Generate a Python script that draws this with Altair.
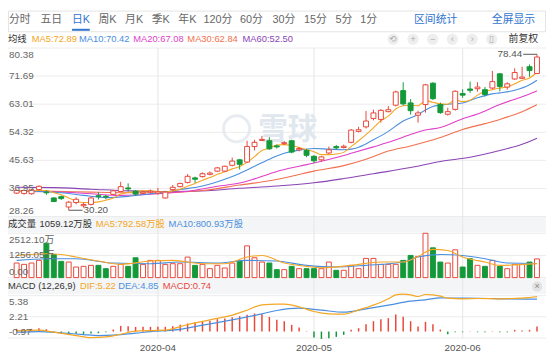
import altair as alt
import pandas as pd

# ---------------- data ----------------
opens = [35.5, 35.4, 35.3, 36.6, 35.8, 34.0, 34.4, 31.2, 32.6, 31.6,
         32.0, 34.7, 34.5, 35.1, 36.0, 37.1, 36.1, 35.4, 35.8, 35.5,
         34.0, 36.6, 37.5, 38.8, 40.2, 40.6, 41.3, 42.3, 42.3, 44.1,
         45.8, 45.1, 49.9, 51.8, 51.7, 50.1, 50.8, 51.7, 48.9, 48.7,
         46.9, 45.8, 47.9, 49.9, 49.6, 51.2, 54.6, 56.0, 58.6, 58.3,
         60.7, 62.7, 67.2, 63.4, 59.6, 62.9, 69.5, 62.9, 59.9, 61.4,
         66.3, 67.7, 67.8, 67.5, 68.0, 72.4, 68.3, 70.8, 71.0, 74.6, 72.5]
closes = [36.3, 36.3, 36.5, 37.6, 35.6, 32.9, 33.8, 32.7, 33.6, 32.0,
          34.0, 34.4, 34.3, 36.2, 37.5, 36.8, 35.2, 35.8, 36.1, 35.9,
          35.8, 37.3, 38.5, 40.7, 39.8, 41.5, 41.7, 43.3, 43.8, 45.4,
          44.4, 49.9, 51.2, 52.1, 49.2, 49.8, 51.1, 48.2, 49.3, 47.2,
          45.5, 46.7, 48.9, 49.5, 50.0, 55.0, 55.1, 57.8, 60.3, 61.1,
          61.3, 66.8, 63.1, 61.0, 60.3, 69.0, 64.7, 60.4, 60.7, 67.0,
          65.8, 67.3, 68.3, 66.0, 70.0, 68.5, 69.3, 72.8, 71.4, 73.4, 77.6]
highs = [36.6, 36.6, 36.8, 37.9, 36.3, 34.2, 34.7, 33.1, 34.2, 32.6,
         34.4, 35.8, 35.0, 36.5, 39.0, 38.5, 36.4, 36.2, 36.6, 37.1,
         36.0, 38.0, 38.7, 41.4, 40.6, 41.9, 42.2, 43.6, 44.0, 46.5,
         46.0, 51.7, 52.0, 53.2, 52.8, 50.5, 51.6, 52.0, 49.8, 49.2,
         47.2, 47.0, 49.9, 50.4, 50.5, 55.3, 56.0, 60.9, 61.3, 61.5,
         62.4, 67.2, 69.8, 64.6, 61.0, 69.3, 69.8, 63.5, 61.9, 67.3,
         67.6, 70.0, 69.8, 68.3, 73.3, 72.6, 69.8, 74.1, 74.6, 75.3, 78.44]
lows = [35.2, 35.0, 35.0, 36.3, 35.0, 32.8, 33.4, 30.2, 32.0, 31.0,
        31.7, 33.5, 33.6, 34.9, 35.8, 36.0, 34.6, 35.2, 35.4, 35.0,
        33.8, 36.3, 37.3, 38.5, 38.7, 40.3, 41.0, 42.0, 42.0, 43.8,
        42.8, 44.9, 48.7, 51.6, 48.9, 49.3, 50.4, 47.8, 48.4, 46.6,
        44.8, 45.3, 47.6, 49.0, 49.3, 50.9, 54.3, 55.5, 58.0, 57.3,
        60.5, 62.3, 62.6, 59.8, 57.3, 60.4, 64.3, 60.0, 59.5, 61.0,
        65.0, 66.5, 66.9, 65.4, 67.6, 67.0, 67.5, 70.5, 70.8, 71.5, 72.3]
volumes = [825, 750, 825, 975, 1950, 1313, 919, 881, 600, 638,
           694, 694, 506, 638, 750, 638, 1125, 750, 975, 975,
           750, 788, 788, 1163, 694, 750, 506, 694, 544, 825,
           938, 1800, 1125, 881, 825, 450, 450, 638, 506, 506,
           506, 506, 881, 413, 413, 694, 506, 1088, 1088, 750,
           750, 750, 975, 1256, 1200, 2512.10, 1688, 881, 825, 1575,
           600, 1069, 694, 638, 975, 638, 506, 750, 750, 881, 1059.12]

ma5 = [36.0, 36.1, 36.2, 36.3, 36.3, 35.6, 35.0, 34.0, 33.0, 32.6,
       32.6, 32.8, 33.3, 34.0, 35.2, 35.7, 36.0, 36.2, 36.2, 36.0,
       35.8, 36.2, 36.7, 37.6, 38.5, 39.5, 40.3, 41.3, 42.1, 43.0,
       43.7, 45.0, 46.8, 48.7, 49.4, 50.4, 50.5, 50.2, 49.6, 49.0,
       48.3, 47.4, 47.4, 47.6, 48.1, 49.9, 51.7, 53.6, 55.7, 57.9,
       59.3, 61.5, 62.5, 62.7, 62.5, 64.1, 63.6, 63.1, 63.0, 64.4,
       63.8, 64.2, 65.8, 66.9, 67.5, 68.0, 68.4, 69.3, 70.4, 71.1, 72.89]
ma10_idx = [0, 3, 6, 9, 12, 15, 18, 20, 22, 25, 28, 30, 32, 34, 36, 38, 40, 42, 44, 45,
            46, 48, 50, 52, 54, 55, 56, 58, 60, 62, 64, 65, 67, 69, 70]
ma10_val = [36.0, 36.0, 35.6, 34.8, 34.1, 34.5, 35.3, 35.8, 36.6, 37.7, 39.8, 41.6, 43.8,
            46.0, 47.8, 48.8, 49.3, 49.1, 48.9, 49.1, 49.7, 52.0, 54.6, 57.8, 59.8, 61.2,
            62.3, 63.0, 63.4, 65.0, 66.2, 66.5, 67.3, 69.0, 70.42]
ma20_idx = [0, 5, 10, 14, 19, 24, 27, 30, 32, 35, 38, 40, 43, 45, 48, 50, 53, 55, 57, 60,
            62, 65, 68, 70]
ma20_val = [36.0, 35.9, 35.3, 34.8, 35.3, 36.4, 37.6, 38.6, 39.9, 42.2, 43.8, 44.8, 46.5,
            47.8, 49.8, 51.2, 53.6, 55.0, 55.8, 58.5, 60.0, 62.9, 65.3, 67.08]
ma30_idx = [0, 5, 10, 15, 19, 25, 30, 34, 37, 40, 44, 47, 50, 53, 57, 60, 63, 65, 68, 70]
ma30_val = [36.2, 36.1, 35.8, 35.6, 35.6, 36.3, 38.0, 39.3, 40.7, 42.3, 44.0, 46.0, 48.5,
            50.1, 52.7, 55.2, 57.0, 58.3, 60.7, 62.84]
ma60_idx = [0, 5, 10, 15, 19, 24, 30, 35, 40, 44, 48, 53, 57, 61, 65, 68, 70]
ma60_val = [37.3, 37.2, 36.7, 36.2, 36.0, 36.1, 37.0, 37.7, 38.7, 40.0, 41.5, 43.4, 45.3,
            46.6, 48.7, 50.6, 52.50]

vol_ma5_idx = [0, 4, 6, 8, 11, 14, 18, 21, 25, 28, 31, 33, 36, 39, 41, 45, 49, 52, 54, 56,
               58, 60, 63, 65, 70]
vol_ma5_val = [1256, 1350, 1313, 1163, 938, 750, 938, 975, 788, 788, 1163, 1256, 825, 638,
               563, 694, 881, 881, 1200, 1600, 1538, 1163, 881, 694, 792.58]
vol_ma10_idx = [0, 4, 8, 13, 18, 22, 27, 31, 35, 39, 43, 47, 52, 54, 57, 60, 63, 66, 70]
vol_ma10_val = [975, 1069, 1069, 825, 788, 881, 825, 975, 938, 694, 600, 694, 881, 1163,
                1313, 1256, 1069, 825, 800.93]

macd_hist = [0.4, 0.35, 0.4, 0.5, 0.35, -0.15, -0.25, -0.3, -0.35, -0.35,
             -0.3, -0.25, -0.1, 0.3, 0.85, 0.8, 0.7, 0.7, 0.7, 0.7,
             0.7, 0.8, 1.0, 1.2, 1.35, 1.45, 1.6, 1.85, 1.95, 2.15,
             2.3, 2.5, 2.7, 2.6, 2.2, 1.75, 1.55, 1.0, 0.6, 0.05,
             -0.9, -1.1, -1.0, -0.8, -0.5, 0.25, 0.5, 1.1, 1.55, 1.85,
             2.0, 2.55, 2.2, 1.55, 0.75, 1.45, 1.1, 0.3, -0.4, -0.1,
             -0.1, 0.05, -0.1, -0.1, 0.05, -0.1, -0.1, 0.25, 0.15, 0.25, 0.74]
dif_idx = [0, 3, 5, 8, 10, 12, 14, 16, 18, 20, 23, 26, 29, 31, 33, 35, 36, 38, 40, 42, 44,
           46, 49, 50, 51, 52, 53, 54, 55, 56, 57, 58, 60, 62, 65, 68, 69, 70]
dif_val = [0.1, 0.2, -0.1, -0.6, -0.9, -0.8, -0.4, 0.05, 0.15, 0.2, 1.05, 1.75, 2.45, 3.2,
           4.0, 4.1, 4.1, 3.7, 3.0, 2.65, 2.6, 3.25, 4.4, 4.9, 5.5, 5.6, 5.5, 5.25, 5.55,
           5.5, 5.3, 5.0, 4.9, 4.95, 4.9, 5.0, 5.1, 5.22]
dea_idx = [0, 3, 6, 9, 11, 13, 16, 18, 21, 25, 29, 33, 35, 38, 41, 44, 47, 50, 53, 55, 57,
           59, 62, 66, 70]
dea_val = [-0.1, 0.0, -0.2, -0.45, -0.6, -0.55, -0.25, 0.0, 0.2, 0.95, 1.75, 2.65, 3.15,
           3.5, 3.2, 2.9, 3.4, 3.95, 4.55, 4.75, 5.05, 5.0, 4.99, 4.9, 4.85]

price_ticks = [28.26, 36.95, 45.63, 54.32, 63.01, 71.69, 80.38]
vol_ticks = [0, 1256.05, 2512.10]
vol_tick_labels = ["0.00", "1256.05万", "2512.10万"]
macd_ticks = [-0.97, 2.21, 5.38]
month_idx = [19, 40, 60]
month_labels = ["2020-04", "2020-05", "2020-06"]

tabs = ["分时", "五日", "日K", "周K", "月K", "季K", "年K", "120分", "60分", "30分", "15分", "5分", "1分"]
tabs_right = ["区间统计", "全屏显示"]
ma_names = ["MA5", "MA10", "MA20", "MA30", "MA60"]
ma_last = [72.89, 70.42, 67.08, 62.84, 52.50]
vol_last = 1059.12
vol_ma_last = [792.58, 800.93]
macd_last = {"DIF": 5.22, "DEA": 4.85, "MACD": 0.74}

# ---------------- layout / style ----------------
W, H = 546, 352
FONT = "Liberation Sans, Noto Sans CJK SC, sans-serif"
RED = "#e9473a"
GREEN = "#14993a"
GRID = "#ececec"
C_MA = ["#f5a623", "#4a8fdf", "#e03fc8", "#f2704f", "#8a45b5"]
BLUE_TXT = "#2f74d0"

XS = alt.Scale(domain=[-0.5, 70.55], nice=False, zero=False)
PRICE_S = alt.Scale(domain=[28.26, 80.38], range=[209, 38], nice=False, zero=False)
VOL_S = alt.Scale(domain=[0, 2512.10], range=[271, 226], nice=False, zero=False)
MACD_S = alt.Scale(domain=[-0.97, 5.38], range=[332.3, 289.3], nice=False, zero=False)


def X(f="i"):
    return alt.X(f"{f}:Q", scale=XS, axis=None)


def Y(f, s):
    return alt.Y(f"{f}:Q", scale=s, axis=None)


one = pd.DataFrame({"a": [0]})
layers = []

# header bands
layers.append(alt.Chart(one).mark_rect(fill="#ffffff", stroke="#e4e4e4").encode(
    x=alt.value(0.5), x2=alt.value(W - 0.5), y=alt.value(0.5), y2=alt.value(21.5)))
for y0, y1 in [(209, 225), (272, 288)]:
    layers.append(alt.Chart(one).mark_rect(fill="#f4f5f6").encode(
        x=alt.value(0), x2=alt.value(W), y=alt.value(y0), y2=alt.value(y1)))

# grids
layers.append(alt.Chart(pd.DataFrame({"p": price_ticks})).mark_rule(color=GRID).encode(
    y=Y("p", PRICE_S), x=alt.value(0), x2=alt.value(W)))
layers.append(alt.Chart(pd.DataFrame({"p": vol_ticks})).mark_rule(color=GRID).encode(
    y=Y("p", VOL_S), x=alt.value(0), x2=alt.value(W)))
layers.append(alt.Chart(pd.DataFrame({"p": macd_ticks})).mark_rule(color=GRID).encode(
    y=Y("p", MACD_S), x=alt.value(0), x2=alt.value(W)))
mdf_month = pd.DataFrame({"i": month_idx, "t": month_labels})
layers.append(alt.Chart(mdf_month).mark_rule(color="#e6e6e6").encode(
    x=X(), y=alt.value(38), y2=alt.value(333)))

# watermark
layers.append(alt.Chart(one).mark_point(shape="circle", size=700, filled=False,
                                          stroke="#dfe5ec", strokeWidth=3).encode(
    x=alt.value(232), y=alt.value(120)))
layers.append(alt.Chart(one).mark_text(text="雪球", fontSize=30, fontWeight="bold",
                                        color="#e1e7ee", align="left", baseline="middle",
                                        font="Noto Sans CJK SC").encode(
    x=alt.value(254), y=alt.value(121)))

# moving averages (price)
ma_series = [(list(range(71)), ma5), (ma10_idx, ma10_val), (ma20_idx, ma20_val),
             (ma30_idx, ma30_val), (ma60_idx, ma60_val)]
for (ix, vals), col in zip(ma_series[::-1], C_MA[::-1]):
    d = pd.DataFrame({"i": ix, "v": vals})
    layers.append(alt.Chart(d).mark_line(color=col, strokeWidth=1.1,
                                          interpolate="monotone").encode(
        x=X(), y=Y("v", PRICE_S)))

# candles
cdf = pd.DataFrame({"i": range(len(opens)), "o": opens, "c": closes, "h": highs, "l": lows})
cdf["top"] = cdf[["o", "c"]].max(axis=1)
cdf["bot"] = cdf[["o", "c"]].min(axis=1)
up = cdf[cdf.c >= cdf.o]
dn = cdf[cdf.c < cdf.o]
layers.append(alt.Chart(up).mark_rule(color=RED, strokeWidth=1).encode(
    x=X(), y=Y("l", PRICE_S), y2="h:Q"))
layers.append(alt.Chart(dn).mark_rule(color=GREEN, strokeWidth=1).encode(
    x=X(), y=Y("l", PRICE_S), y2="h:Q"))
layers.append(alt.Chart(up).mark_bar(size=5, fill="#ffffff", stroke=RED, strokeWidth=1).encode(
    x=X(), y=Y("bot", PRICE_S), y2="top:Q"))
layers.append(alt.Chart(dn).mark_bar(size=5, fill=GREEN, stroke=GREEN, strokeWidth=1).encode(
    x=X(), y=Y("bot", PRICE_S), y2="top:Q"))

# high / low annotations
hi_i = highs.index(max(highs))
lo_i = lows.index(min(lows))
hdf = pd.DataFrame({"i": [hi_i], "p": [max(highs)], "t": [f"{max(highs):.2f}"]})
ldf = pd.DataFrame({"i": [lo_i], "p": [min(lows)], "t": [f"{min(lows):.2f}"]})
layers.append(alt.Chart(hdf).mark_rule(color="#555", x2Offset=-14).encode(
    x=X(), x2="i:Q", y=Y("p", PRICE_S)))
layers.append(alt.Chart(hdf).mark_text(align="right", baseline="middle", dx=-15,
                                        fontSize=10, color="#555").encode(
    x=X(), y=Y("p", PRICE_S), text="t:N"))
layers.append(alt.Chart(ldf).mark_rule(color="#555", x2Offset=14).encode(
    x=X(), x2="i:Q", y=Y("p", PRICE_S)))
layers.append(alt.Chart(ldf).mark_text(align="left", baseline="middle", dx=15,
                                        fontSize=10, color="#555").encode(
    x=X(), y=Y("p", PRICE_S), text="t:N"))

# volume
vdf = pd.DataFrame({"i": range(len(volumes)), "v": volumes, "z": 0.0,
                    "up": [c >= o for o, c in zip(opens, closes)]})
layers.append(alt.Chart(vdf[vdf.up]).mark_bar(size=5, fill="#ffffff", stroke=RED, strokeWidth=1).encode(
    x=X(), y=Y("v", VOL_S), y2="z:Q"))
layers.append(alt.Chart(vdf[~vdf.up]).mark_bar(size=5, fill=GREEN, stroke=GREEN, strokeWidth=1).encode(
    x=X(), y=Y("v", VOL_S), y2="z:Q"))
for ix, vals, col in [(vol_ma10_idx, vol_ma10_val, C_MA[1]), (vol_ma5_idx, vol_ma5_val, C_MA[0])]:
    layers.append(alt.Chart(pd.DataFrame({"i": ix, "v": vals})).mark_line(
        color=col, strokeWidth=1.1, interpolate="monotone").encode(x=X(), y=Y("v", VOL_S)))

# MACD
hdf2 = pd.DataFrame({"i": range(len(macd_hist)), "m": macd_hist, "z": 0.0})
layers.append(alt.Chart(hdf2[hdf2.m >= 0]).mark_rule(color=RED, strokeWidth=1.5).encode(
    x=X(), y=Y("m", MACD_S), y2="z:Q"))
layers.append(alt.Chart(hdf2[hdf2.m < 0]).mark_rule(color=GREEN, strokeWidth=1.5).encode(
    x=X(), y=Y("m", MACD_S), y2="z:Q"))
for ix, vals, col in [(dea_idx, dea_val, C_MA[1]), (dif_idx, dif_val, C_MA[0])]:
    layers.append(alt.Chart(pd.DataFrame({"i": ix, "v": vals})).mark_line(
        color=col, strokeWidth=1.2, interpolate="monotone").encode(x=X(), y=Y("v", MACD_S)))

# axis labels
LBL = dict(fontSize=10, color="#666", align="left")
pl = pd.DataFrame({"p": price_ticks, "t": [f"{v:.2f}" for v in price_ticks]})
layers.append(alt.Chart(pl.iloc[1:-1]).mark_text(baseline="middle", **LBL).encode(
    x=alt.value(1), y=Y("p", PRICE_S), text="t:N"))
layers.append(alt.Chart(pl.iloc[-1:]).mark_text(baseline="top", dy=2, **LBL).encode(
    x=alt.value(1), y=Y("p", PRICE_S), text="t:N"))
layers.append(alt.Chart(pl.iloc[:1]).mark_text(baseline="bottom", dy=-1, **LBL).encode(
    x=alt.value(1), y=Y("p", PRICE_S), text="t:N"))
vl = pd.DataFrame({"p": vol_ticks, "t": vol_tick_labels})
layers.append(alt.Chart(vl.iloc[2:]).mark_text(baseline="top", dy=2, **LBL).encode(
    x=alt.value(1), y=Y("p", VOL_S), text="t:N"))
layers.append(alt.Chart(vl.iloc[1:2]).mark_text(baseline="middle", **LBL).encode(
    x=alt.value(1), y=Y("p", VOL_S), text="t:N"))
layers.append(alt.Chart(vl.iloc[:1]).mark_text(baseline="bottom", dy=-1, **LBL).encode(
    x=alt.value(1), y=Y("p", VOL_S), text="t:N"))
ml = pd.DataFrame({"p": macd_ticks, "t": [f"{v:.2f}" for v in macd_ticks]})
layers.append(alt.Chart(ml.iloc[2:]).mark_text(baseline="top", dy=2, **LBL).encode(
    x=alt.value(1), y=Y("p", MACD_S), text="t:N"))
layers.append(alt.Chart(ml.iloc[1:2]).mark_text(baseline="middle", **LBL).encode(
    x=alt.value(1), y=Y("p", MACD_S), text="t:N"))
layers.append(alt.Chart(ml.iloc[:1]).mark_text(baseline="bottom", dy=-1, **LBL).encode(
    x=alt.value(1), y=Y("p", MACD_S), text="t:N"))
layers.append(alt.Chart(mdf_month).mark_text(fontSize=10, color="#555", align="center",
                                              baseline="middle").encode(
    x=X(), y=alt.value(342), text="t:N"))

# header: tabs
TAB_X = [12, 44, 74, 101, 128, 155, 182, 213, 247, 280, 312, 341, 366]
TABR_X = [434, 513]
tab_df = pd.DataFrame({"t": tabs + tabs_right, "px": TAB_X + TABR_X,
                       "col": ["#666"] * 2 + [BLUE_TXT] + ["#666"] * 10 + [BLUE_TXT] * 2})
layers.append(alt.Chart(tab_df).mark_text(fontSize=11, align="center", baseline="middle").encode(
    x=alt.X("px:Q", scale=None), y=alt.value(10), text="t:N", color=alt.Color("col:N", scale=None)))
layers.append(alt.Chart(one).mark_rule(color=BLUE_TXT, strokeWidth=2).encode(
    x=alt.value(TAB_X[2] - 9), x2=alt.value(TAB_X[2] + 9), y=alt.value(19.5)))

# legend row (price)
LEG_X = [24, 72, 127, 182, 238]
leg = pd.DataFrame({"t": ["均线"] + [f"{n}:{v:.2f}" for n, v in zip(ma_names, ma_last)],
                    "px": [0] + LEG_X, "col": ["#333"] + C_MA})
layers.append(alt.Chart(leg).mark_text(fontSize=9.5, align="left", baseline="middle").encode(
    x=alt.X("px:Q", scale=None), y=alt.value(29), text="t:N", color=alt.Color("col:N", scale=None)))
ICON_X = [391, 411, 431, 451, 471, 491]
icons = pd.DataFrame({"px": ICON_X, "g": ["⟲", "+", "−", "‹", "›", "▯"]})
layers.append(alt.Chart(icons).mark_point(shape="circle", size=130, filled=True,
                                           color="#eeeeee", opacity=1).encode(
    x=alt.X("px:Q", scale=None), y=alt.value(29)))
layers.append(alt.Chart(icons).mark_text(fontSize=9, color="#aaa", align="center",
                                          baseline="middle").encode(
    x=alt.X("px:Q", scale=None), y=alt.value(29), text="g:N"))
layers.append(alt.Chart(one).mark_text(text="前复权", fontSize=10, color="#333", align="right",
                                        baseline="middle").encode(x=alt.value(538), y=alt.value(29)))

# legend row (volume)
vleg = pd.DataFrame({"t": ["成交量", f"{vol_last:.2f}万股",
                           f"MA5:{vol_ma_last[0]:.2f}万股", f"MA10:{vol_ma_last[1]:.2f}万股"],
                     "px": [0, 32, 89, 163], "col": ["#333", "#333", C_MA[0], C_MA[1]]})
layers.append(alt.Chart(vleg).mark_text(fontSize=9.5, align="left", baseline="middle").encode(
    x=alt.X("px:Q", scale=None), y=alt.value(217), text="t:N", color=alt.Color("col:N", scale=None)))

# legend row (MACD)
mleg = pd.DataFrame({"t": ["MACD (12,26,9)"] + [f"{k}:{v:.2f}" for k, v in macd_last.items()],
                     "px": [0, 73, 112, 157], "col": ["#333", C_MA[0], C_MA[1], RED]})
layers.append(alt.Chart(mleg).mark_text(fontSize=9.5, align="left", baseline="middle").encode(
    x=alt.X("px:Q", scale=None), y=alt.value(280), text="t:N", color=alt.Color("col:N", scale=None)))
layers.append(alt.Chart(one).mark_point(shape="circle", size=110, filled=True, color="#e3e3e3",
                                         opacity=1).encode(x=alt.value(537), y=alt.value(280)))
layers.append(alt.Chart(one).mark_text(text="×", fontSize=9, color="#888", align="center",
                                        baseline="middle").encode(x=alt.value(537), y=alt.value(280)))

chart = alt.layer(*layers).resolve_scale(y="independent").properties(
    width=W, height=H, padding=0, autosize=alt.AutoSizeParams(type="none")
).configure_view(stroke=None).configure_text(font=FONT)

chart.save("out.html", embed_options={"renderer": "svg", "actions": False})
